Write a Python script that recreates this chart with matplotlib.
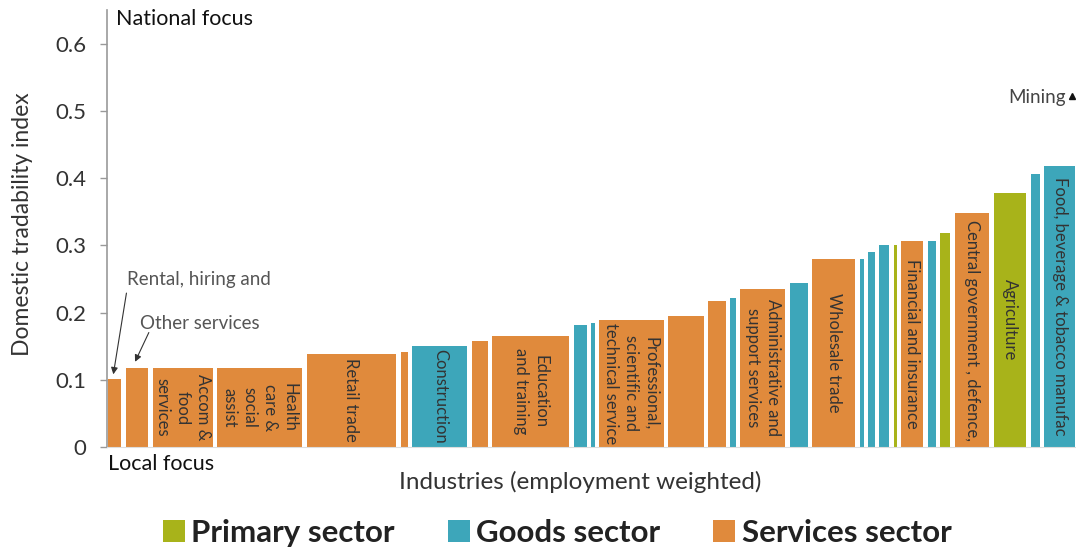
import matplotlib.pyplot as plt
from matplotlib.patches import Patch
import numpy as np

plt.rcParams['font.family'] = ['Lato', 'DejaVu Sans']

# employment share of each industry (%), left to right
empleo = [1.8, 2.8, 6.6, 9.2, 9.7, 1.2, 6.1, 2.1, 8.4, 1.8, 0.8, 7.1, 4.1, 2.3, 1.0,
          5.1, 2.3, 4.9, 0.9, 1.1, 1.5, 0.8, 2.7, 1.3, 1.5, 4.0, 3.8, 1.4, 3.6]
# domestic tradability index
indice = [0.101, 0.117, 0.117, 0.118, 0.139, 0.142, 0.150, 0.158, 0.165, 0.182, 0.185,
          0.189, 0.195, 0.217, 0.221, 0.235, 0.244, 0.280, 0.280, 0.290, 0.300, 0.301,
          0.306, 0.307, 0.318, 0.348, 0.378, 0.406, 0.418]
# P = primary, G = goods, S = services
sector = ['S', 'S', 'S', 'S', 'S', 'S', 'G', 'S', 'S', 'G', 'G', 'S', 'S', 'S', 'G',
          'S', 'G', 'S', 'G', 'G', 'G', 'P', 'S', 'G', 'P', 'S', 'P', 'G', 'G']
etiquetas = {
    2: 'Accom &\nfood\nservices',
    3: 'Health\ncare &\nsocial\nassist',
    4: 'Retail trade',
    6: 'Construction',
    8: 'Education\nand training',
    11: 'Professional,\nscientific and\ntechnical service',
    15: 'Administrative and\nsupport services',
    17: 'Wholesale trade',
    22: 'Financial and insurance',
    25: 'Central government , defence,',
    26: 'Agriculture',
    28: 'Food, beverage & tobacco manufac',
}

colores = {'P': '#A8B31A', 'G': '#3DA6BA', 'S': '#E08A3C'}
nombres = {'P': 'Primary sector', 'G': 'Goods sector', 'S': 'Services sector'}
hueco = 0.46

fig = plt.figure(figsize=(10.76, 5.49), dpi=100)
ax = fig.add_axes([0.0994, 0.1858, 0.9006, 0.796])

izq = np.concatenate([[0], np.cumsum(empleo)[:-1]])
anchos = np.array(empleo) - hueco
ax.bar(izq, indice, width=anchos, align='edge',
       color=[colores[s] for s in sector], linewidth=0)

for i, texto in etiquetas.items():
    ax.text(izq[i] + anchos[i] / 2, indice[i] / 2, texto, rotation=270,
            ha='center', va='center', fontsize=12, color='#333333',
            linespacing=1.3)

ax.set_xlim(-0.13, 99.56)
ax.set_ylim(0, 0.65)
ax.set_yticks([0, 0.1, 0.2, 0.3, 0.4, 0.5, 0.6])
ax.set_yticklabels(['0', '0.1', '0.2', '0.3', '0.4', '0.5', '0.6'])
ax.tick_params(axis='y', length=5, width=1, color='#999999', pad=10,
               labelsize=16, labelcolor='#333333')
ax.set_xticks([])

for lado in ['top', 'right']:
    ax.spines[lado].set_visible(False)
ax.spines['left'].set_color('#999999')
ax.spines['left'].set_linewidth(1.2)
ax.spines['bottom'].set_color('#dddddd')
ax.spines['bottom'].set_linewidth(0.8)

ax.set_ylabel('Domestic tradability index', fontsize=16.5, color='#333333')
ax.yaxis.set_label_coords(-0.076, 0.51)
ax.set_xlabel('Industries (employment weighted)', fontsize=17.5, color='#333333')
ax.xaxis.set_label_coords(0.488, -0.055)

ax.text(0.8, 0.637, 'National focus', fontsize=15.5, color='#111111', va='center')
ax.text(0.0, -0.025, 'Local focus', fontsize=15.5, color='#111111', va='center')

# small industries pointed out with arrows
ax.annotate('', xy=(0.48, 0.104), xytext=(1.92, 0.233),
            arrowprops=dict(arrowstyle='-|>', color='#333333', lw=0.8,
                            mutation_scale=10))
ax.text(1.92, 0.2495, 'Rental, hiring and', fontsize=13.5, color='#555555',
        va='center')
ax.annotate('', xy=(2.64, 0.123), xytext=(4.3, 0.174),
            arrowprops=dict(arrowstyle='-|>', color='#333333', lw=0.8,
                            mutation_scale=10))
ax.text(3.26, 0.184, 'Other services', fontsize=13.5, color='#555555',
        va='center')

ax.text(92.6, 0.52, 'Mining', fontsize=13.5, color='#444444', va='center')
ax.plot([99.15], [0.522], marker='^', color='#111111', markersize=4,
        clip_on=False)

handles = [Patch(facecolor=colores[k], label=nombres[k]) for k in ['P', 'G', 'S']]
fig.legend(handles=handles, loc='center', bbox_to_anchor=(0.518, 0.029), ncol=3,
           frameon=False, prop={'size': 22.5, 'weight': 'bold'},
           handlelength=0.7, handleheight=0.7, handletextpad=0.2,
           columnspacing=1.7, labelcolor='#222222')

plt.savefig('out.png', dpi=100)
